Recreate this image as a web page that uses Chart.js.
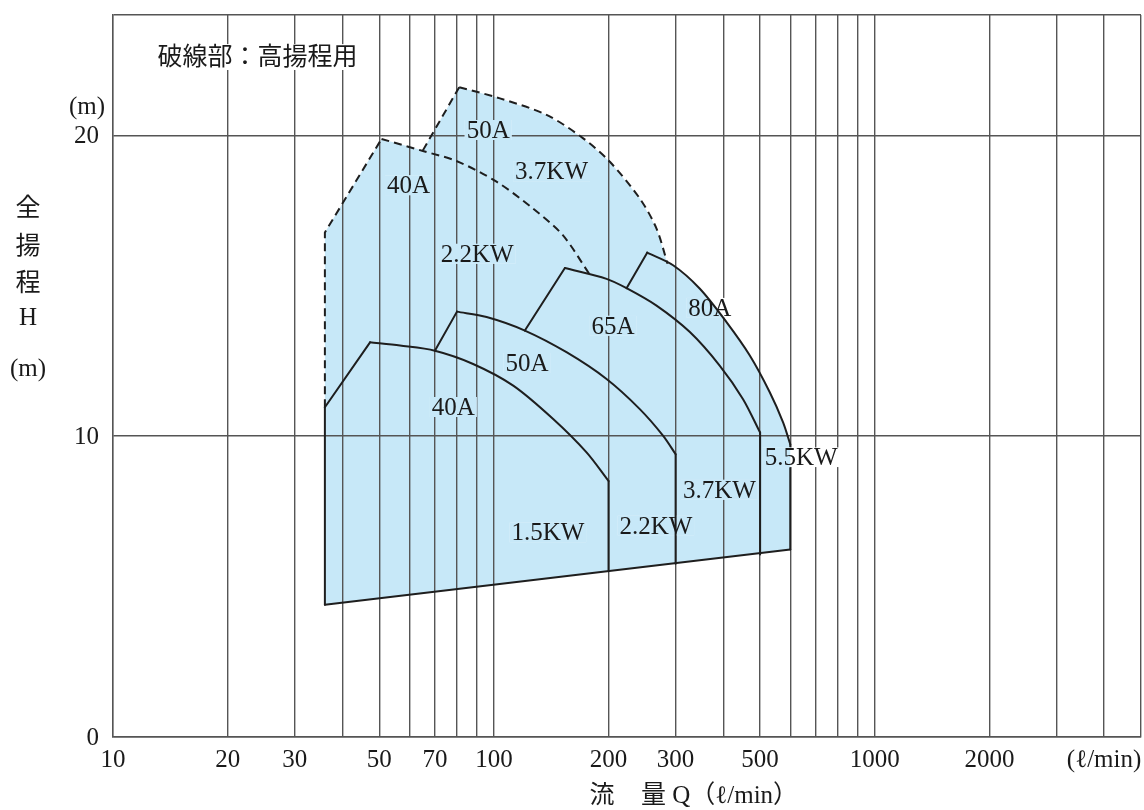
<!DOCTYPE html>
<html lang="ja">
<head>
<meta charset="utf-8">
<title>全揚程・流量 選定図</title>
<script src="https://cdn.jsdelivr.net/npm/chart.js@4.4.1/dist/chart.umd.min.js"></script>
<style>
  html, body { margin: 0; padding: 0; background: #fff; }
  #wrap { width: 1144px; height: 810px; }
</style>
</head>
<body>
<div id="wrap"><canvas id="pumpChart" width="1144" height="810"></canvas></div>
<script>
// Pump selection chart: total head H (m) vs flow Q (l/min, log scale)

// Axis ticks
const qTicks = [10, 20, 30, 40, 50, 60, 70, 80, 90, 100, 200, 300, 400, 500, 600, 700, 800, 900, 1000, 2000, 3000, 4000, 5000];
const qTickLabels = ['10', '20', '30', '', '50', '', '70', '', '', '100', '200', '300', '', '500', '', '', '', '', '1000', '2000', '', '(ℓ/min)', ''];
const hTicks = [0, 10, 20, 24];
const hTickLabels = ['0', '10', '20', ''];

// Shaded operating range (outline, in Q / H)
const areaQ = [36, 36, 50.7, 65.1, 81.1, 103.7, 137.5, 171.6, 201.6, 241.6, 267.3, 285.7, 295.5, 347.4, 408.1, 469.8, 530, 574.5, 600, 600];
const areaH = [4.4, 16.77, 19.88, 19.5, 21.6, 21.23, 20.68, 19.9, 19.12, 17.9, 16.9, 15.73, 15.68, 14.9, 13.79, 12.68, 11.46, 10.46, 9.73, 6.23];

// Lower limit line and left edge (solid)
const bottomQ = [36, 600];
const bottomH = [4.4, 6.23];
const leftQ = [36, 36];
const leftH = [4.4, 10.96];

// 40A 1.5KW
const rise40Q = [36, 47.3];
const rise40H = [10.96, 13.12];
const arc40Q = [47.3, 56.7, 70, 88.2, 112.4, 143.1, 175.1, 200];
const arc40H = [13.12, 13.01, 12.84, 12.4, 11.68, 10.57, 9.46, 8.51];
const drop40Q = [200, 200];
const drop40H = [8.51, 5.51];

// 50A 2.2KW
const rise50Q = [70, 80];
const rise50H = [12.84, 14.14];
const arc50Q = [80, 95.7, 120.6, 155.1, 197.6, 241.6, 278.3, 300];
const arc50H = [14.14, 13.96, 13.51, 12.79, 11.9, 10.9, 10.01, 9.4];
const drop50Q = [300, 300];
const drop50H = [9.4, 5.76];

// 65A 3.7KW
const rise65Q = [120.6, 153.6];
const rise65H = [13.51, 15.59];
const arc65Q = [153.6, 197.6, 223, 267.3, 327, 392, 451, 500];
const arc65H = [15.59, 15.23, 14.92, 14.34, 13.46, 12.34, 11.23, 10.12];
const drop65Q = [500, 500];
const drop65H = [10.12, 6.07];

// 80A 5.5KW
const rise80Q = [223, 252.6];
const rise80H = [14.92, 16.1];
const arc80Q = [252.6, 295.5, 347.4, 408.1, 469.8, 530, 574.5, 600];
const arc80H = [16.1, 15.68, 14.9, 13.79, 12.68, 11.46, 10.46, 9.73];
const drop80Q = [600, 600];
const drop80H = [9.73, 6.23];

// High head versions (dashed)
const hiEdgeQ = [36, 36, 50.7];
const hiEdgeH = [10.96, 16.77, 19.88];
const hiArc40Q = [50.7, 65.1, 80, 101.6, 126.6, 151.7, 177.9];
const hiArc40H = [19.88, 19.48, 19.14, 18.46, 17.57, 16.68, 15.4];
const hiRise50Q = [65.1, 81.1];
const hiRise50H = [19.5, 21.6];
const hiArc50Q = [81.1, 103.7, 137.5, 171.6, 201.6, 241.6, 267.3, 285.7];
const hiArc50H = [21.6, 21.23, 20.68, 19.9, 19.12, 17.9, 16.9, 15.73];

// Labels inside the plot (anchored at Q / H)
const labelTexts = ['破線部：高揚程用', '50A', '3.7KW', '40A', '2.2KW', '80A', '65A', '50A', '40A', '5.5KW', '3.7KW', '2.2KW', '1.5KW'];
const labelQ = [23.95, 96.6, 141.7, 59.7, 90.4, 368.9, 205.6, 122.1, 78.2, 640.7, 390.8, 266.2, 138.6];
const labelH = [22.6, 20.18, 18.8, 18.34, 16.06, 14.27, 13.67, 12.43, 10.97, 9.3, 8.22, 7.03, 6.8];
const labelOverLines = [false, false, false, false, false, false, false, false, false, true, false, false, false];

const FILL_COLOR = '#c7e8f8';
const LINE_COLOR = '#1e1e1e';
const GRID_COLOR = '#555555';
const TEXT_COLOR = '#1a1a1a';
const FONT = "'Liberation Serif', 'Noto Sans CJK JP', serif";
const FONT_SIZE = 25;
const CAP_SHIFT = 8; // alphabetic baseline -> visual centre of capitals

function pts(qs, hs) {
    return qs.map((q, i) => ({ x: q, y: hs[i] }));
}

function stroke(qs, hs, opts) {
    opts = opts || {};
    return {
        data: pts(qs, hs),
        borderColor: LINE_COLOR,
        borderWidth: 2,
        borderDash: opts.dashed ? [8, 5] : [],
        borderCapStyle: opts.dashed ? 'butt' : 'round',
        tension: opts.curved ? 0.3 : 0,
        fill: false,
        pointRadius: 0
    };
}

const datasets = [
    {
        data: pts(areaQ, areaH),
        borderColor: 'transparent',
        backgroundColor: FILL_COLOR,
        fill: 'shape',
        tension: 0,
        pointRadius: 0
    },
    stroke(bottomQ, bottomH),
    stroke(leftQ, leftH),
    stroke(rise40Q, rise40H), stroke(arc40Q, arc40H, { curved: true }), stroke(drop40Q, drop40H),
    stroke(rise50Q, rise50H), stroke(arc50Q, arc50H, { curved: true }), stroke(drop50Q, drop50H),
    stroke(rise65Q, rise65H), stroke(arc65Q, arc65H, { curved: true }), stroke(drop65Q, drop65H),
    stroke(rise80Q, rise80H), stroke(arc80Q, arc80H, { curved: true }), stroke(drop80Q, drop80H),
    stroke(hiEdgeQ, hiEdgeH, { dashed: true }),
    stroke(hiArc40Q, hiArc40H, { dashed: true, curved: true }),
    stroke(hiRise50Q, hiRise50H, { dashed: true }),
    stroke(hiArc50Q, hiArc50H, { dashed: true, curved: true })
];

// label backgrounds hide the grid; inside the shaded area they stay blue
function drawLabelBoxes(chart, overLines) {
    const ctx = chart.ctx;
    const x = chart.scales.x, y = chart.scales.y;
    const area = chart.getDatasetMeta(0).data;
    ctx.save();
    ctx.font = FONT_SIZE + 'px ' + FONT;
    labelTexts.forEach((t, i) => {
        if (labelOverLines[i] !== overLines) return;
        const cx = x.getPixelForValue(labelQ[i]);
        const cy = y.getPixelForValue(labelH[i]);
        const w = ctx.measureText(t).width + 4;
        const h = i === 0 ? 26 : 20;
        ctx.save();
        ctx.beginPath();
        ctx.rect(cx - w / 2, cy - h / 2, w, h);
        ctx.clip();
        ctx.fillStyle = '#fff';
        ctx.fillRect(cx - w / 2, cy - h / 2, w, h);
        ctx.beginPath();
        area.forEach((p, k) => k ? ctx.lineTo(p.x, p.y) : ctx.moveTo(p.x, p.y));
        ctx.closePath();
        ctx.fillStyle = FILL_COLOR;
        ctx.fill();
        ctx.restore();
    });
    ctx.restore();
}

const textPlugin = {
    id: 'pumpText',
    beforeDatasetsDraw(chart) {
        drawLabelBoxes(chart, false);
    },
    afterDatasetsDraw(chart) {
        drawLabelBoxes(chart, true);
        const ctx = chart.ctx;
        const x = chart.scales.x, y = chart.scales.y;
        ctx.save();
        ctx.font = FONT_SIZE + 'px ' + FONT;
        ctx.fillStyle = TEXT_COLOR;
        ctx.textAlign = 'center';
        ctx.textBaseline = 'alphabetic';
        labelTexts.forEach((t, i) => {
            ctx.fillText(t, x.getPixelForValue(labelQ[i]), y.getPixelForValue(labelH[i]) + CAP_SHIFT);
        });

        // y axis title, stacked
        ['全', '揚', '程', 'H', '(m)'].forEach((c, i) => {
            ctx.fillText(c, 28, [208, 246, 283, 317, 368][i] + CAP_SHIFT);
        });
        // unit above the y ticks
        ctx.textAlign = 'right';
        ctx.fillText('(m)', 105, 106 + CAP_SHIFT);
        // x axis title
        ctx.textAlign = 'center';
        ctx.fillText('流', 602, 795 + CAP_SHIFT);
        ctx.textAlign = 'left';
        ctx.fillText('量 Q（ℓ/min）', 641, 795 + CAP_SHIFT);
        ctx.restore();
    }
};

const ctx = document.getElementById('pumpChart');
new Chart(ctx, {
    type: 'line',
    data: { datasets: datasets },
    options: {
        responsive: false,
        animation: false,
        devicePixelRatio: 1,
        events: [],
        layout: { padding: { left: 0, right: 3, top: 15, bottom: 0 } },
        plugins: {
            legend: { display: false },
            tooltip: { enabled: false },
            filler: { drawTime: 'beforeDraw' }
        },
        scales: {
            x: {
                type: 'logarithmic',
                min: 10,
                max: 5000,
                afterBuildTicks: s => { s.ticks = qTicks.map(v => ({ value: v })); },
                afterFit: s => { s.height = 73; s.paddingLeft = 0; s.paddingRight = 0; },
                ticks: {
                    autoSkip: false,
                    maxRotation: 0,
                    padding: 8,
                    color: TEXT_COLOR,
                    font: { family: FONT, size: FONT_SIZE },
                    callback: (v, i) => qTickLabels[i]
                },
                grid: { color: GRID_COLOR, lineWidth: 1.4, drawTicks: false },
                border: { display: true, color: GRID_COLOR, width: 1.4 }
            },
            y: {
                type: 'linear',
                min: 0,
                max: 24,
                afterBuildTicks: s => { s.ticks = hTicks.map(v => ({ value: v })); },
                afterFit: s => { s.width = 113; s.paddingTop = 0; s.paddingBottom = 0; },
                ticks: {
                    padding: 14,
                    labelOffset: 1,
                    color: TEXT_COLOR,
                    font: { family: FONT, size: FONT_SIZE },
                    callback: (v, i) => hTickLabels[i]
                },
                grid: { color: GRID_COLOR, lineWidth: 1.4, drawTicks: false },
                border: { display: true, color: GRID_COLOR, width: 1.4 }
            }
        }
    },
    plugins: [textPlugin]
});
</script>
</body>
</html>
